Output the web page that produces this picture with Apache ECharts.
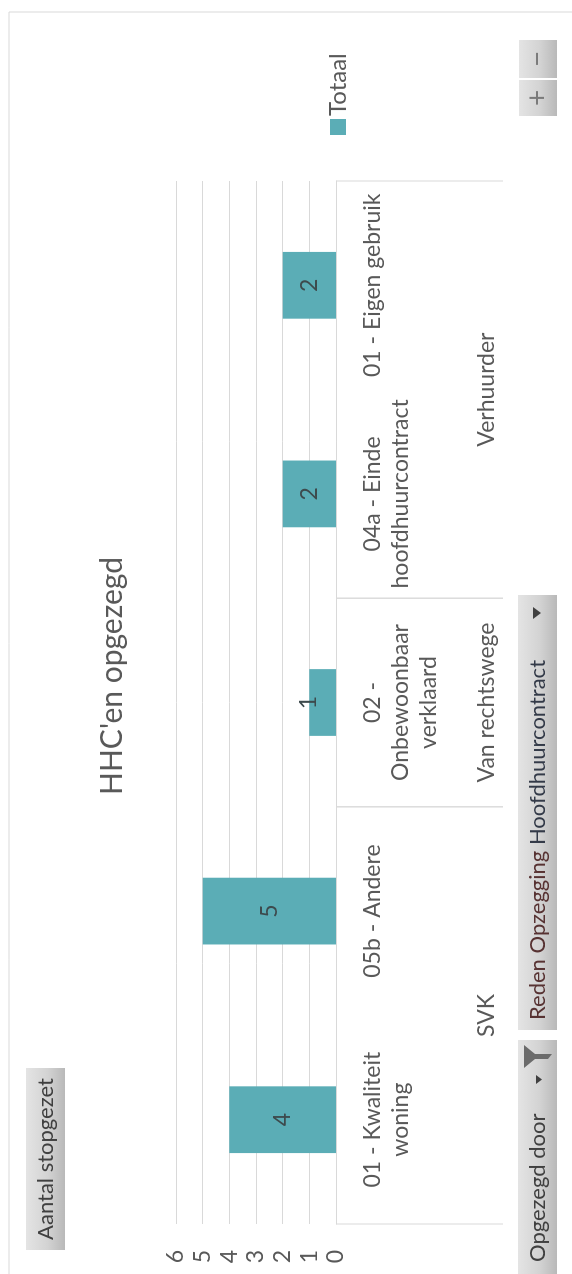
<!DOCTYPE html>
<html>
<head>
<meta charset="utf-8">
<script src="https://cdn.jsdelivr.net/npm/echarts/dist/echarts.min.js"></script>
<style>
  html, body { margin: 0; padding: 0; background: #fff; overflow: hidden; }
  /* the chart is laid out landscape and turned a quarter to fit the portrait page */
  #stage {
    position: absolute; left: 0; top: 0;
    width: 1274px; height: 572px;
    transform-origin: 0 0;
    transform: translate(0, 1274px) rotate(-90deg);
    background: #fff;
  }
</style>
</head>
<body>
<div id="stage"></div>
<script>
// Reden Opzegging Hoofdhuurcontract (inner level of the category axis)
const categories = [
  '01 - Kwaliteit\nwoning',
  '05b - Andere',
  '02 -\nOnbewoonbaar\nverklaard',
  '04a - Einde\nhoofdhuurcontract',
  '01 - Eigen gebruik'
];
// Aantal stopgezet per reden
const totals = [4, 5, 1, 2, 2];
// Opgezegd door (outer level): first and last category index of each group
const groupNames = ['SVK', 'Van rechtswege', 'Verhuurder'];
const groupFrom = [0, 2, 3];
const groupTo = [1, 2, 4];
// value axis ticks
const valueMin = 0, valueMax = 6, valueStep = 1;

const FONT = 'Lato, "Open Sans", sans-serif';
const TXT = '#595959';
const LINE = '#d9d9d9';
const TEAL = '#5badb6';

const chart = echarts.init(document.getElementById('stage'), null, { width: 1274, height: 572, renderer: 'canvas' });

const GRID = { left: 50, top: 176, width: 1043, height: 160 };
const unitPx = GRID.height / (valueMax - valueMin);

// bar labels sit in the middle of the bar; very short bars push the label up a little
const barData = totals.map(v => {
  const item = { value: v };
  if (v * unitPx < 30) item.label = { offset: [0, -14] };
  return item;
});

function buttonFill() {
  return new echarts.graphic.LinearGradient(0, 0, 0, 1, [
    { offset: 0, color: '#e4e4e4' },
    { offset: 0.55, color: '#d3d3d3' },
    { offset: 1, color: '#b9b9b9' }
  ]);
}

const option = {
  animation: false,
  backgroundColor: '#fff',
  textStyle: { fontFamily: FONT },
  grid: GRID,
  legend: {
    data: ['Totaal'],
    left: 1134, top: 321,
    icon: 'rect', itemWidth: 16, itemHeight: 16, itemGap: 6,
    textStyle: { fontFamily: FONT, fontSize: 24, color: TXT, padding: [0, 0, 0, -2] }
  },
  xAxis: {
    type: 'category',
    data: categories,
    axisLine: { show: true, lineStyle: { color: LINE, width: 1 } },
    axisTick: { show: false },
    splitLine: { show: false },
    axisLabel: {
      interval: 0, margin: 23,
      fontFamily: FONT, fontSize: 23, lineHeight: 28, color: TXT,
      align: 'center'
    }
  },
  yAxis: {
    type: 'value',
    min: valueMin, max: valueMax, interval: valueStep,
    axisLine: { show: false },
    axisTick: { show: false },
    splitLine: { lineStyle: { color: LINE, width: 1 } },
    axisLabel: { fontFamily: FONT, fontSize: 23, color: TXT, margin: 26 }
  },
  series: [
    {
      name: 'Totaal',
      type: 'bar',
      data: barData,
      barWidth: '32%',
      itemStyle: { color: TEAL },
      label: {
        show: true, position: 'inside',
        fontFamily: FONT, fontSize: 23, color: '#3d4a4d'
      }
    },
    {
      // outer level of the category axis: group names with dividers
      type: 'custom',
      coordinateSystem: 'cartesian2d',
      clip: false,
      silent: true,
      encode: { x: [0, 1], y: 2 },
      data: groupNames.map((n, i) => [groupFrom[i], groupTo[i], 0]),
      renderItem: function (params, api) {
        const band = api.size([1, 0])[0];
        const a = api.coord([api.value(0), 0]);
        const b = api.coord([api.value(1), 0]);
        const x0 = a[0] - band / 2;
        const x1 = b[0] + band / 2;
        const y0 = a[1];
        const depth = 167;
        const lineStyle = { stroke: LINE, lineWidth: 1 };
        return {
          type: 'group',
          children: [
            { type: 'line', shape: { x1: x0, y1: y0, x2: x0, y2: y0 + depth }, style: lineStyle },
            { type: 'line', shape: { x1: x1, y1: y0, x2: x1, y2: y0 + depth }, style: lineStyle },
            {
              type: 'text',
              x: (x0 + x1) / 2, y: y0 + 151,
              style: {
                text: groupNames[params.dataIndex],
                font: '23px ' + FONT, fill: TXT,
                align: 'center', verticalAlign: 'middle'
              }
            }
          ]
        };
      }
    }
  ],
  graphic: [
    // chart frame
    { type: 'rect', shape: { x: -5, y: 9, width: 1267, height: 600 },
      style: { fill: 'none', stroke: LINE, lineWidth: 1 }, silent: true, z: -1 },
    // title
    { type: 'text', x: 598, y: 112,
      style: { text: "HHC'en opgezegd", font: '30px ' + FONT, fill: TXT, align: 'center', verticalAlign: 'middle' } },
    // value field button
    { type: 'group', children: [
      { type: 'rect', shape: { x: 24, y: 26, width: 182, height: 39 }, style: { fill: buttonFill() } },
      { type: 'text', x: 115, y: 46, style: { text: 'Aantal stopgezet', font: '22px ' + FONT, fill: '#404040', align: 'center', verticalAlign: 'middle' } }
    ] },
    // axis field buttons
    { type: 'group', children: [
      { type: 'rect', shape: { x: 0, y: 518, width: 234, height: 39 }, style: { fill: buttonFill() } },
      { type: 'text', x: 12, y: 538, style: { text: 'Opgezegd door', font: '22px ' + FONT, fill: '#404040', align: 'left', verticalAlign: 'middle' } },
      { type: 'polygon', shape: { points: [[190, 536], [199, 536], [194.5, 542]] }, style: { fill: '#404040' } },
      { type: 'polygon', shape: { points: [[206, 524], [229, 524], [220, 535], [220, 552], [215, 548], [215, 535]] }, style: { fill: '#6b6b6b' } }
    ] },
    { type: 'group', children: [
      { type: 'rect', shape: { x: 244, y: 518, width: 435, height: 39 }, style: { fill: buttonFill() } },
      { type: 'text', x: 254, y: 538, style: {
          text: '{r|Reden Opzegging} {d|Hoofdhuurcontract}',
          font: '22px ' + FONT, align: 'left', verticalAlign: 'middle',
          rich: {
            r: { fill: '#573232', font: '22px ' + FONT },
            d: { fill: '#333a48', font: '22px ' + FONT }
          }
      } },
      { type: 'polygon', shape: { points: [[655, 533], [667, 533], [661, 541]] }, style: { fill: '#404040' } }
    ] },
    // expand / collapse buttons
    { type: 'group', children: [
      { type: 'rect', shape: { x: 1158, y: 519, width: 36, height: 38 }, style: { fill: buttonFill() } },
      { type: 'text', x: 1176, y: 538, style: { text: '+', font: '28px ' + FONT, fill: '#7a7a7a', align: 'center', verticalAlign: 'middle' } },
      { type: 'rect', shape: { x: 1196, y: 519, width: 38, height: 38 }, style: { fill: buttonFill() } },
      { type: 'text', x: 1215, y: 538, style: { text: '\u2212', font: '28px ' + FONT, fill: '#7a7a7a', align: 'center', verticalAlign: 'middle' } }
    ] }
  ]
};

chart.setOption(option);
</script>
</body>
</html>
